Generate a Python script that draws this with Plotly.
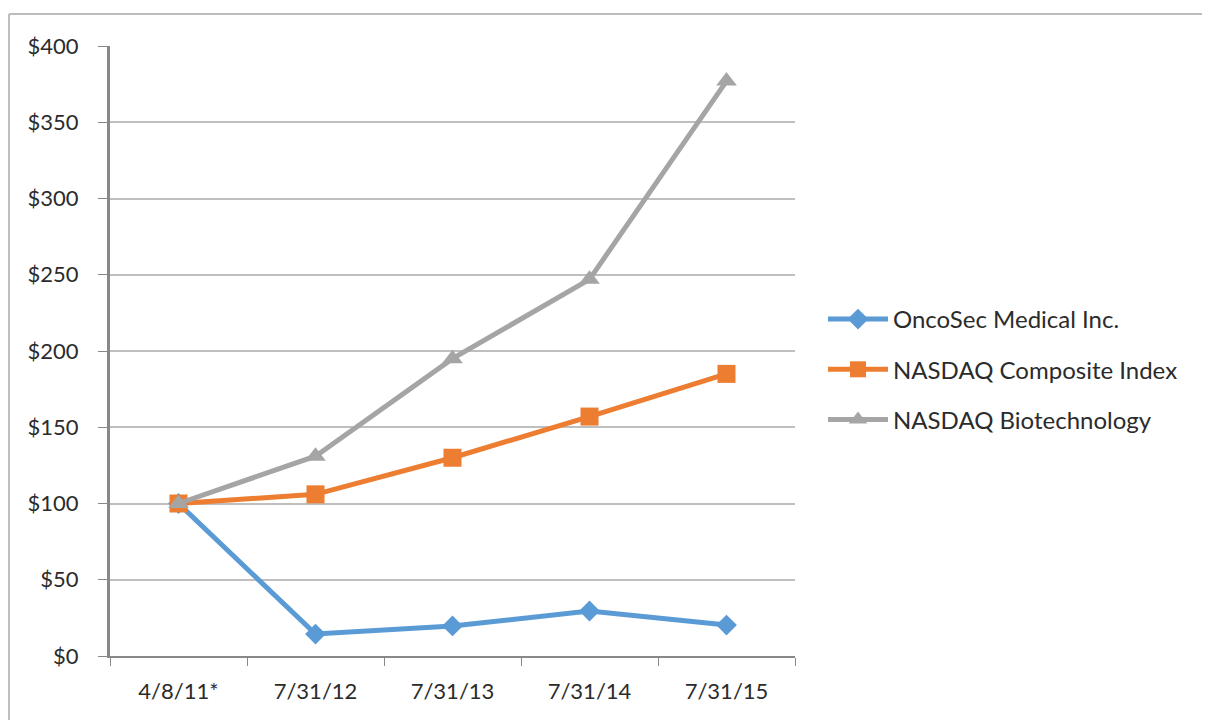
import plotly.graph_objects as go

categories = ["4/8/11*", "7/31/12", "7/31/13", "7/31/14", "7/31/15"]
oncosec = [100, 14.4, 19.7, 29.5, 20.3]
nasdaq_comp = [100, 106, 130, 157, 185]
nasdaq_bio = [100, 131, 195, 247, 377]
y_ticks = [0, 50, 100, 150, 200, 250, 300, 350, 400]
y_tick_labels = ["$" + str(v) for v in y_ticks]

# page has an 8px body margin
OFF = 8
W, H = 1210 - OFF, 720 - OFF
L, R, T, B = 110 - OFF, W - (795 - OFF), 46 - OFF, H - (656 - OFF)
pw, ph = W - L - R, H - T - B

FONT = "Lato, 'Open Sans', sans-serif"
TXT = "#2b2b2b"

fig = go.Figure()
series = [
    ("OncoSec Medical Inc.", oncosec, "#5B9BD5", "diamond", 16),
    ("NASDAQ Composite Index", nasdaq_comp, "#ED7D31", "square", 18),
    ("NASDAQ Biotechnology", nasdaq_bio, "#A5A5A5", "triangle-up", 18),
]
for i, (name, vals, col, sym, sz) in enumerate(series):
    fig.add_trace(go.Scatter(
        x=categories, y=vals, name=name, mode="lines+markers",
        line=dict(color=col, width=5),
        marker=dict(symbol=sym, size=sz, color=col),
        legendgroup="g" + str(i),
    ))

def px_x(p):
    return (p - OFF - L) / pw

def px_y(p):
    return (H - B - (p - OFF)) / ph

# outer frame: top and left edges visible in the picture
fig.add_shape(type="line", xref="paper", yref="paper",
              x0=px_x(9), x1=px_x(1260), y0=px_y(14), y1=px_y(14),
              line=dict(color="#BDBDBD", width=2), layer="below")
fig.add_shape(type="line", xref="paper", yref="paper",
              x0=px_x(9), x1=px_x(9), y0=px_y(14), y1=px_y(760),
              line=dict(color="#BDBDBD", width=2), layer="below")

fig.update_layout(
    width=W, height=H,
    margin=dict(l=L, r=R, t=T, b=B),
    paper_bgcolor="white", plot_bgcolor="white",
    font=dict(family=FONT, size=22, color=TXT),
    showlegend=True,
    legend=dict(x=px_x(823), y=px_y(297), xanchor="left", yanchor="top",
                font=dict(size=24, color=TXT), traceorder="grouped",
                tracegroupgap=16, itemwidth=60, bgcolor="rgba(0,0,0,0)"),
    xaxis=dict(
        type="category", range=[-0.5, 4.5], showgrid=False,
        showline=True, linecolor="#888888", linewidth=2,
        ticks="outside", tickson="boundaries", ticklen=8, tickcolor="#888888",
        tickwidth=1, tickfont=dict(size=22, color=TXT), ticklabelstandoff=15,
        fixedrange=True,
    ),
    yaxis=dict(
        range=[0, 400], tickvals=y_ticks, ticktext=y_tick_labels,
        showgrid=True, gridcolor="#BFBFBF", gridwidth=2,
        showline=True, linecolor="#888888", linewidth=3,
        ticks="outside", ticklen=9, tickcolor="#888888", tickwidth=1,
        tickfont=dict(size=22, color=TXT), ticklabelstandoff=15,
        zeroline=False, fixedrange=True,
    ),
)

fig.write_html("out.html")
